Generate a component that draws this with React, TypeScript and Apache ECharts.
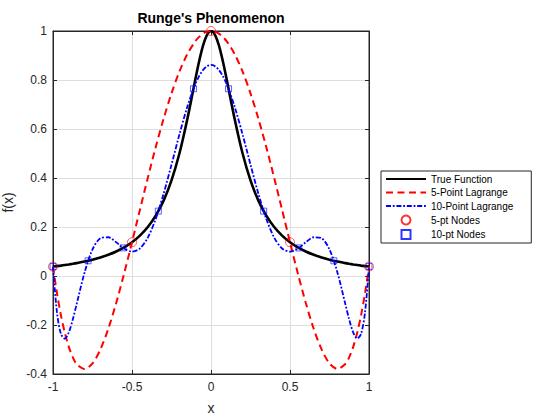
import React, { useEffect, useRef } from "react";
import * as echarts from "echarts";

const xs = [-1, -0.975, -0.95, -0.925, -0.9, -0.875, -0.85, -0.8, -0.75, -0.7, -0.65, -0.6, -0.55, -0.5, -0.45, -0.4, -0.35, -0.3, -0.25, -0.2, -0.15, -0.1, -0.075, -0.05, -0.025, 0, 0.025, 0.05, 0.075, 0.1, 0.15, 0.2, 0.25, 0.3, 0.35, 0.4, 0.45, 0.5, 0.55, 0.6, 0.65, 0.7, 0.75, 0.8, 0.85, 0.875, 0.9, 0.925, 0.95, 0.975, 1];

const trueFn = [0.0385, 0.0404, 0.0424, 0.0447, 0.0471, 0.0497, 0.0525, 0.0588, 0.0664, 0.0755, 0.0865, 0.1, 0.1168, 0.1379, 0.1649, 0.2, 0.2462, 0.3077, 0.3902, 0.5, 0.64, 0.8, 0.8767, 0.9412, 0.9846, 1, 0.9846, 0.9412, 0.8767, 0.8, 0.64, 0.5, 0.3902, 0.3077, 0.2462, 0.2, 0.1649, 0.1379, 0.1168, 0.1, 0.0865, 0.0755, 0.0664, 0.0588, 0.0525, 0.0497, 0.0471, 0.0447, 0.0424, 0.0404, 0.0385];

const lagrange5 = [0.0385, -0.0697, -0.1596, -0.2323, -0.2891, -0.3312, -0.3595, -0.3793, -0.3568, -0.2997, -0.2152, -0.1101, 0.0096, 0.1379, 0.2698, 0.4005, 0.5258, 0.6419, 0.7456, 0.8342, 0.9054, 0.9576, 0.976, 0.9893, 0.9973, 1, 0.9973, 0.9893, 0.976, 0.9576, 0.9054, 0.8342, 0.7456, 0.6419, 0.5258, 0.4005, 0.2698, 0.1379, 0.0096, -0.1101, -0.2152, -0.2997, -0.3568, -0.3793, -0.3595, -0.3312, -0.2891, -0.2323, -0.1596, -0.0697, 0.0385];

const lagrange10 = [0.0385, -0.1479, -0.2359, -0.2554, -0.23, -0.1781, -0.1138, 0.0147, 0.1084, 0.154, 0.1581, 0.1377, 0.1122, 0.0995, 0.1122, 0.1566, 0.233, 0.3356, 0.4546, 0.5774, 0.6907, 0.782, 0.816, 0.8411, 0.8564, 0.8615, 0.8564, 0.8411, 0.816, 0.782, 0.6907, 0.5774, 0.4546, 0.3356, 0.233, 0.1566, 0.1122, 0.0995, 0.1122, 0.1377, 0.1581, 0.154, 0.1084, 0.0147, -0.1138, -0.1781, -0.23, -0.2554, -0.2359, -0.1479, 0.0385];

const nodes5X = [-1, -0.5, 0, 0.5, 1];
const nodes5Y = [0.0385, 0.1379, 1, 0.1379, 0.0385];

const nodes10X = [-1, -0.7778, -0.5556, -0.3333, -0.1111, 0.1111, 0.3333, 0.5556, 0.7778, 1];
const nodes10Y = [0.0385, 0.062, 0.1147, 0.2647, 0.7642, 0.7642, 0.2647, 0.1147, 0.062, 0.0385];

const seriesNames = ["True Function", "5-Point Lagrange", "10-Point Lagrange", "5-pt Nodes", "10-pt Nodes"];

const FONT = "'Liberation Sans', Arial, Helvetica, sans-serif";

export default function App() {
  const ref = useRef<HTMLDivElement>(null);
  useEffect(() => {
    if (!ref.current) return;
    const chart = echarts.init(ref.current, null, { renderer: "svg" });
    const pair = (x: number[], y: number[]) => x.map((v, i) => [v, y[i]]);
    const hidden = { opacity: 0 };
    const tick = { show: true, inside: true, length: 4, lineStyle: { color: "#262626" } };
    const line = { show: true, onZero: false, lineStyle: { color: "#262626" } };
    chart.setOption({
      animation: false,
      backgroundColor: "#ffffff",
      textStyle: { fontFamily: FONT },
      grid: {
        left: 53, right: 191, top: 31, bottom: 46,
        containLabel: false, outerBoundsMode: "none",
        show: true, borderColor: "#262626", borderWidth: 1, backgroundColor: "transparent",
      },
      graphic: [
        {
          type: "text", x: 211, y: 11,
          style: { text: "Runge's Phenomenon", textAlign: "center", fill: "#000", font: `bold 14px ${FONT}` },
        },
      ],
      xAxis: [
        {
          type: "value", min: -1, max: 1, interval: 0.5, position: "bottom",
          name: "x", nameLocation: "middle", nameGap: 27,
          nameTextStyle: { color: "#262626", fontSize: 14, fontFamily: FONT },
          axisLine: line, axisTick: tick,
          axisLabel: { color: "#262626", fontSize: 12, margin: 7, fontFamily: FONT },
          splitLine: { show: true, lineStyle: { color: "#dedede", width: 1 } },
        },
        {
          type: "value", min: -1, max: 1, interval: 0.5, position: "top",
          axisLine: line, axisTick: tick, axisLabel: { show: false }, splitLine: { show: false },
        },
      ],
      yAxis: [
        {
          type: "value", min: -0.4, max: 1, interval: 0.2, position: "left",
          name: "f(x)", nameLocation: "middle", nameGap: 38, nameRotate: 90,
          nameTextStyle: { color: "#262626", fontSize: 14, fontFamily: FONT },
          axisLine: line, axisTick: tick,
          axisLabel: { color: "#262626", fontSize: 12, margin: 6, fontFamily: FONT },
          splitLine: { show: true, lineStyle: { color: "#dedede", width: 1 } },
        },
        {
          type: "value", min: -0.4, max: 1, interval: 0.2, position: "right",
          axisLine: line, axisTick: tick, axisLabel: { show: false }, splitLine: { show: false },
        },
      ],
      legend: {
        orient: "vertical", left: 381, top: 171,
        data: [
          { name: seriesNames[0], itemStyle: hidden },
          { name: seriesNames[1], itemStyle: hidden },
          { name: seriesNames[2], itemStyle: hidden },
          { name: seriesNames[3] },
          { name: seriesNames[4], icon: "path://M0 0H10V10H0Z" },
        ],
        itemWidth: 40, itemHeight: 9, itemGap: 3.5,
        padding: [3, 18, 3, 4],
        borderColor: "#262626", borderWidth: 1, backgroundColor: "#fff",
        textStyle: { fontSize: 10, color: "#000", fontFamily: FONT },
      },
      series: [
        {
          name: seriesNames[0], type: "line", data: pair(xs, trueFn), smooth: 0.3,
          symbol: "none", lineStyle: { color: "#000", width: 2.6 }, itemStyle: { color: "#000" }, z: 2,
        },
        {
          name: seriesNames[1], type: "line", data: pair(xs, lagrange5), smooth: 0.3,
          symbol: "none", lineStyle: { color: "#ff0000", width: 2, type: [7, 4.5] }, itemStyle: { color: "#ff0000" }, z: 3,
        },
        {
          name: seriesNames[2], type: "line", data: pair(xs, lagrange10), smooth: 0.3,
          symbol: "none", lineStyle: { color: "#0000ff", width: 1.8, type: [5, 1.8, 1.8, 1.8] }, itemStyle: { color: "#0000ff" }, z: 4,
        },
        {
          name: seriesNames[3], type: "scatter", data: pair(nodes5X, nodes5Y),
          symbol: "circle", symbolSize: 9,
          itemStyle: { color: "transparent", borderColor: "#ff0000", borderWidth: 0.8 }, z: 5,
        },
        {
          name: seriesNames[4], type: "scatter", data: pair(nodes10X, nodes10Y),
          symbol: "rect", symbolSize: 6,
          itemStyle: { color: "transparent", borderColor: "#0000ff", borderWidth: 0.8 }, z: 6,
        },
      ],
    });
    return () => chart.dispose();
  }, []);
  return (
    <div
      ref={ref}
      style={{ position: "absolute", left: 0, top: 0, width: 560, height: 420, background: "#fff" }}
    />
  );
}
